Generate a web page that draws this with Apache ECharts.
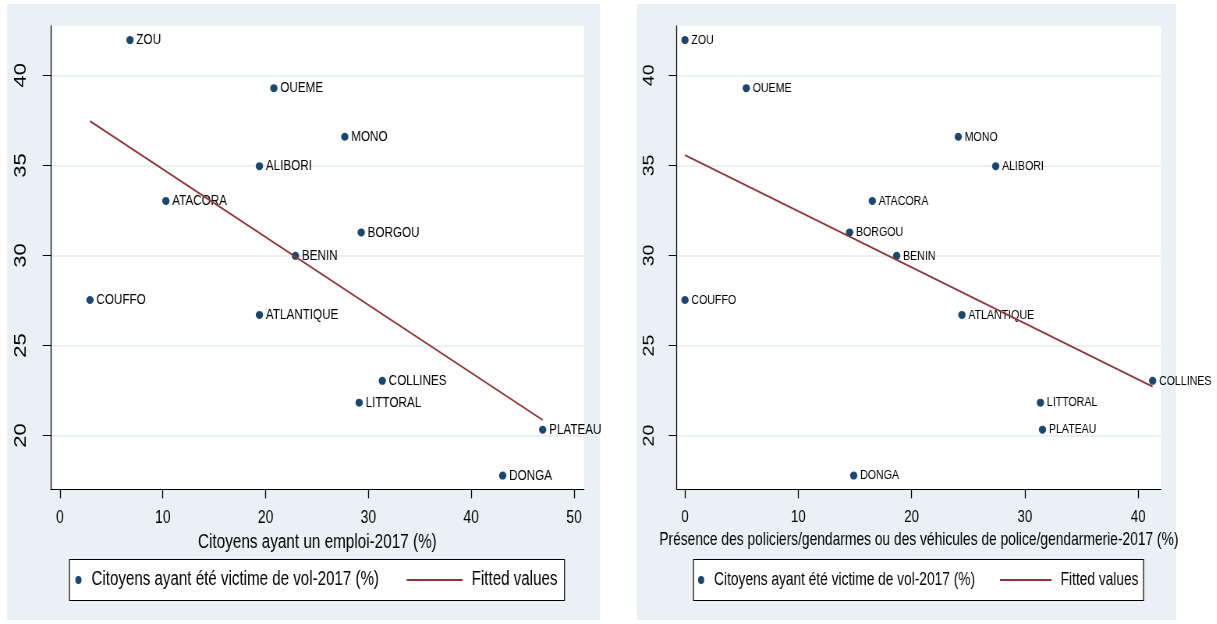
<!DOCTYPE html>
<html>
<head>
<meta charset="utf-8">
<script src="https://cdn.jsdelivr.net/npm/echarts@6/dist/echarts.min.js"></script>
<style>
  html, body { margin: 0; padding: 0; background: #ffffff; overflow: hidden; }
  /* the figure is drawn wide and squeezed horizontally, like the exported Stata graph */
  #chart { width: 1560px; height: 624px; transform: scaleX(0.78); transform-origin: 0 0; }
</style>
</head>
<body>
<div id="chart"></div>
<script>
// Departments of Benin (2017)
const departments = ['ZOU', 'OUEME', 'MONO', 'ALIBORI', 'ATACORA', 'BORGOU', 'BENIN', 'COUFFO', 'ATLANTIQUE', 'COLLINES', 'LITTORAL', 'PLATEAU', 'DONGA'];
// Citizens victim of theft, 2017 (%)
const theftVictims = [41.96, 39.29, 36.59, 34.96, 33.03, 31.28, 29.98, 27.53, 26.70, 23.04, 21.83, 20.33, 17.78];
// Citizens with a job, 2017 (%)
const employment = [6.81, 20.8, 27.7, 19.4, 10.3, 29.3, 22.9, 2.92, 19.4, 31.35, 29.1, 46.95, 43.06];
// Presence of police/gendarmes or their vehicles, 2017 (%)
const policePresence = [0, 5.41, 24.12, 27.42, 16.53, 14.53, 18.68, 0, 24.44, 41.27, 31.37, 31.55, 14.89];
// Fitted regression line end points
const fitEmploymentX = [2.92, 46.95];
const fitEmploymentY = [37.46, 20.87];
const fitPoliceX = [0, 41.27];
const fitPoliceY = [35.57, 22.72];
// Tick labels
const yTicks = [20, 25, 30, 35, 40];
const xTicksEmployment = [0, 10, 20, 30, 40, 50];
const xTicksPolice = [0, 10, 20, 30, 40];

const scatterName = 'Citoyens ayant été victime de vol-2017 (%)';
const fitName = 'Fitted values';
const xNameEmployment = 'Citoyens ayant un emploi-2017 (%)';
const xNamePolice = 'Présence des policiers/gendarmes ou des véhicules de police/gendarmerie-2017 (%)';

const NAVY = '#1a476f';
const MAROON = '#90353b';
const BG = '#eaf1f4';
const FONT = "'Liberation Sans', Arial, sans-serif";
const DOT = 'path://M50,0A50,50,0,1,1,49.99,0Z';

// horizontal squeeze applied to the whole canvas
const SQUEEZE = 0.78;
const X = px => px / SQUEEZE;

function points(xs) {
  return xs.map((x, i) => [x, theftVictims[i], departments[i]]);
}
function pairs(xs, ys) {
  return xs.map((x, i) => [x, ys[i]]);
}

function xAxis(gridIndex, min, max, ticks, name, tickFont, nameFont, nameGap) {
  return {
    type: 'value', gridIndex, min, max, name,
    nameLocation: 'middle', nameGap,
    nameTextStyle: { fontFamily: FONT, fontSize: nameFont, color: '#000' },
    axisLine: { show: true, onZero: false, lineStyle: { color: '#000', width: 1 } },
    axisTick: { show: true, length: 9, customValues: ticks, lineStyle: { color: '#000', width: 1.3 } },
    axisLabel: { customValues: ticks, margin: 20, fontFamily: FONT, fontSize: tickFont, color: '#000' },
    splitLine: { show: false }
  };
}
function yAxis(gridIndex, labelFont, margin) {
  return {
    type: 'value', gridIndex, min: 17.02, max: 42.74,
    axisLine: { show: true, onZero: false, lineStyle: { color: '#000', width: 1.3 } },
    axisTick: { show: true, length: X(8), customValues: yTicks, lineStyle: { color: '#000', width: 1 } },
    axisLabel: { customValues: yTicks, rotate: 90, margin, fontFamily: FONT, fontSize: labelFont, color: '#000' },
    splitLine: { show: true, lineStyle: { color: BG, width: 2 } }
  };
}
function scatter(idx, xs, labelFont) {
  return {
    type: 'scatter', name: scatterName, xAxisIndex: idx, yAxisIndex: idx,
    data: points(xs), symbol: DOT, symbolSize: [9.4, 8],
    itemStyle: { color: NAVY, opacity: 1 },
    label: {
      show: true, position: 'right', distance: 3.5,
      formatter: p => p.data[2],
      fontFamily: FONT, fontSize: labelFont, color: '#000'
    },
    z: 2
  };
}
function fit(idx, xs, ys) {
  return {
    type: 'line', name: fitName, xAxisIndex: idx, yAxisIndex: idx,
    data: pairs(xs, ys), showSymbol: false, symbol: 'none',
    itemStyle: { color: MAROON }, lineStyle: { color: MAROON, width: 1.8 },
    z: 3
  };
}
function legendItem(left, name, icon, w, h, fontSize, pad) {
  return {
    left: X(left), top: 570, padding: 0, selectedMode: false,
    itemWidth: w, itemHeight: h,
    data: [icon ? { name, icon } : { name }],
    textStyle: { fontFamily: FONT, fontSize, lineHeight: 20, color: '#000', padding: [0, 0, 0, pad] }
  };
}

const chart = echarts.init(document.getElementById('chart'), null, { renderer: 'canvas' });
chart.setOption({
  animation: false,
  backgroundColor: '#ffffff',
  graphic: [
    { type: 'rect', z: -10, shape: { x: X(7), y: 4, width: X(593), height: 616 }, style: { fill: BG } },
    { type: 'rect', z: -10, shape: { x: X(637), y: 4, width: X(539), height: 616 }, style: { fill: BG } },
    { type: 'rect', z: -5, shape: { x: X(69.5), y: 559.5, width: X(495), height: 41 }, style: { fill: '#fff', stroke: '#000', lineWidth: 1.2 } },
    { type: 'rect', z: -5, shape: { x: X(693.5), y: 559.5, width: X(450), height: 41 }, style: { fill: '#fff', stroke: '#000', lineWidth: 1.2 } }
  ],
  grid: [
    { left: X(50.7), top: 26, width: X(533.3), height: 463.3, show: true, backgroundColor: '#fff', borderWidth: 0 },
    { left: X(676.7), top: 26, width: X(484.3), height: 463.3, show: true, backgroundColor: '#fff', borderWidth: 0 }
  ],
  xAxis: [
    xAxis(0, -0.9, 50.97, xTicksEmployment, xNameEmployment, 18, 19.6, 37),
    xAxis(1, -0.73, 42.01, xTicksPolice, xNamePolice, 17, 17.7, 36)
  ],
  yAxis: [yAxis(0, 22, 27), yAxis(1, 19.5, 25)],
  legend: [
    legendItem(75.3, scatterName, null, 9.4, 8, 19.4, 7),
    legendItem(406.7, fitName, 'rect', X(56), 2, 19.4, 6.5),
    legendItem(698, scatterName, null, 9.4, 8, 17.6, 7),
    legendItem(1000, fitName, 'rect', X(51.7), 2, 17.6, 6.5)
  ],
  series: [
    scatter(0, employment, 15),
    fit(0, fitEmploymentX, fitEmploymentY),
    scatter(1, policePresence, 13.6),
    fit(1, fitPoliceX, fitPoliceY)
  ]
});
</script>
</body>
</html>
